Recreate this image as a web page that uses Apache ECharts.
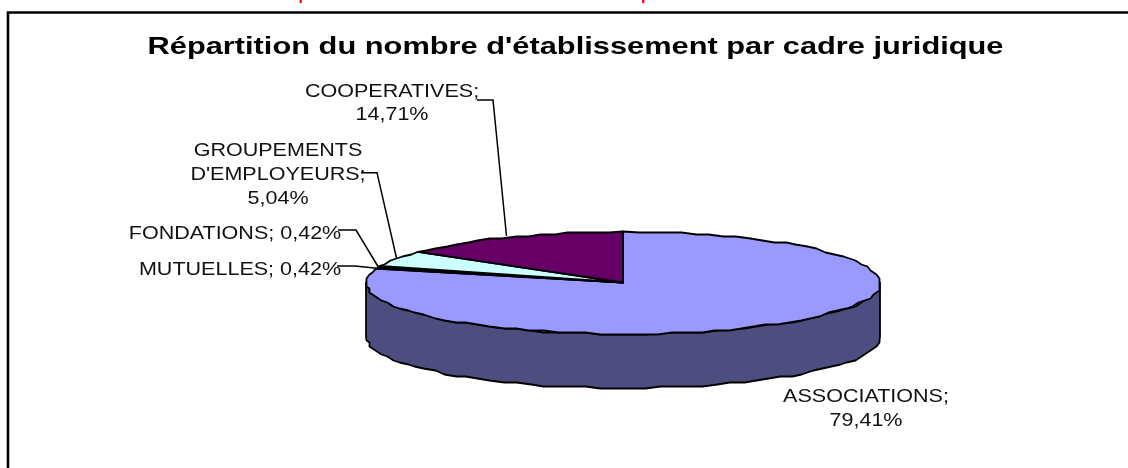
<!DOCTYPE html>
<html><head><meta charset="utf-8">
<style>html,body{margin:0;padding:0;background:#fff;overflow:hidden}#c{width:1128px;height:468px;filter:blur(.4px)}</style>
<script src="https://cdn.jsdelivr.net/npm/echarts@6/dist/echarts.min.js"></script>
</head><body><div id="c"></div>
<script>
const categories = ['ASSOCIATIONS','MUTUELLES','FONDATIONS',"GROUPEMENTS D'EMPLOYEURS",'COOPERATIVES'];
const shares = [79.41,0.42,0.42,5.04,14.71];
const labelLines = [['ASSOCIATIONS;','79,41%'],['MUTUELLES; 0,42%'],['FONDATIONS; 0,42%'],['GROUPEMENTS',"D'EMPLOYEURS;",'5,04%'],['COOPERATIVES;','14,71%']];
const colors = ['#9999FF','#993366','#FFFFCC','#CCFFFF','#660066'];
const wallColor = '#4D4D80';
const titleText = "Répartition du nombre d'établissement par cadre juridique";

const geo = {cx:623, cy:282.5, rx:257, ry:51, depth:54};
const labelStretch = 1.23, titleStretch = 1.283;
const labelBoxes = [
  {x:866,y:397,gap:24.3},{x:240,y:270.5,gap:0},{x:235,y:234.5,gap:0},{x:278,y:150.7,gap:24.2},{x:392,y:92.5,gap:23}
];
const leaders = [
  null,
  [[337,266],[355,266],[379,268.5]],
  [[338,230],[356,230],[378,266.5]],
  [[361,172.7],[377,172.7],[396.5,258]],
  [[477,100],[493,100],[506.5,236]]
];
const total = shares.reduce((a,b)=>a+b,0);
let start = 0;
const spans = shares.map(v=>{const s=start; start+=v/total*Math.PI*2; return [s,start];});
const exact=(t,dy=0)=>[geo.cx+geo.rx*Math.sin(t), geo.cy-geo.ry*Math.cos(t)+dy];
const snapped=(t,dy=0)=>{const p=exact(t,dy);return [Math.round(p[0]/3)*3+0.5, Math.round((p[1]-dy)/2)*2+0.5+dy];};
function arc(a,b,dy=0){const n=Math.max(2,Math.ceil((b-a)/(Math.PI*2)*110));const r=[];for(let i=0;i<=n;i++){const t=a+(b-a)*i/n;r.push(i===0||i===n?exact(t,dy):snapped(t,dy));}return r;}
const lineStyle={stroke:'#000',lineWidth:1.8,lineJoin:'round'};
const chart=echarts.init(document.getElementById('c'),null,{renderer:'canvas'});
function render(params,api){
  const i=params.dataIndex; const [a,b]=spans[i]; const children=[];
  if(i===0){
    const wa=Math.PI/2, wb=Math.PI*1.5;
    const top=arc(wa,wb), bot=arc(wa,wb,geo.depth).reverse();
    children.push({type:'polygon',shape:{points:top.concat(bot)},style:{fill:wallColor,...lineStyle},z2:1});
  }
  children.push({type:'polygon',shape:{points:[[geo.cx,geo.cy]].concat(arc(a,b))},style:{fill:colors[i],...lineStyle},z2:5});
  if(leaders[i]) children.push({type:'polyline',shape:{points:leaders[i]},style:{stroke:'#000',lineWidth:1.5,fill:null},z2:8});
  const box=labelBoxes[i];
  labelLines[i].forEach((t,k)=>children.push({type:'text',z2:7,x:box.x,y:box.y+k*box.gap,scaleX:labelStretch,style:{text:t,x:0,y:0,align:'center',verticalAlign:'middle',fill:'#111',font:'17.5px "Liberation Sans"'}}));
  return {type:'group',children};
}
chart.setOption({
  animation:false,
  graphic:[
    {type:'rect',shape:{x:8,y:12.5,width:1300,height:700},style:{fill:'#fff',stroke:'#000',lineWidth:2.6},z:-1},
    {type:'text',x:575.5,y:47,scaleX:titleStretch,style:{text:titleText,x:0,y:0,align:'center',verticalAlign:'middle',fill:'#000',font:'bold 24px "Liberation Sans"'}},
    {type:'text',x:303.5,y:-4,style:{text:'p',x:0,y:0,align:'center',verticalAlign:'middle',fill:'#f00',font:'bold 16px "Liberation Sans"'}},
    {type:'text',x:646,y:-4,style:{text:'p',x:0,y:0,align:'center',verticalAlign:'middle',fill:'#f00',font:'bold 16px "Liberation Sans"'}}
  ],
  xAxis:{show:false,min:0,max:1},yAxis:{show:false,min:0,max:1},grid:{left:0,right:0,top:0,bottom:0},
  series:[{type:'custom',coordinateSystem:'cartesian2d',clip:false,data:categories.map((c,i)=>({name:c,value:[i,shares[i]]})),renderItem:render,silent:true}]
});
</script></body></html>
